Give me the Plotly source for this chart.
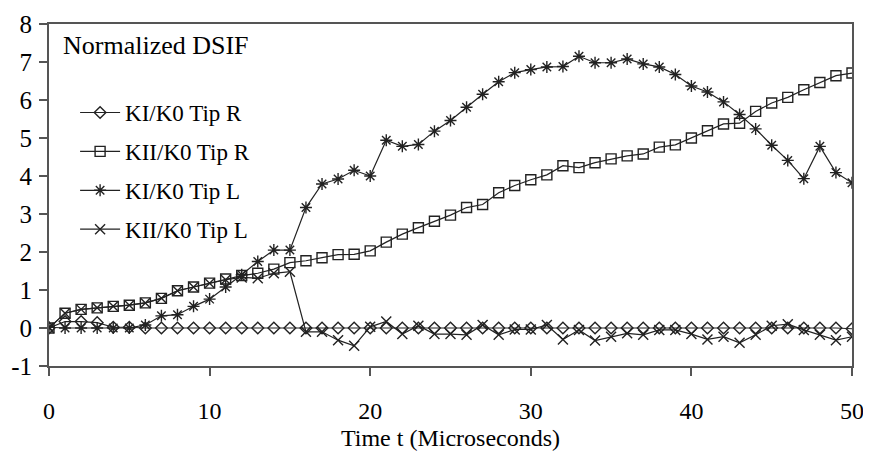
import plotly.graph_objects as go

t = list(range(0, 51))

ki_tip_r = [0.0, 0.17, 0.17, 0.14, 0.02, 0.02, 0.0, 0.0, 0.0, 0.0,
            0.0, 0.0, 0.0, 0.0, 0.0, 0.0, 0.0, 0.0, 0.0, 0.0,
            0.0, 0.0, 0.0, 0.0, 0.0, 0.0, 0.0, 0.0, 0.0, 0.0,
            0.0, 0.0, 0.0, 0.0, 0.0, 0.0, 0.0, 0.0, 0.0, 0.0,
            0.0, 0.0, 0.0, 0.0, 0.0, 0.0, 0.0, 0.0, 0.0, 0.0, -0.02]

kii_tip_r = [0.0, 0.39, 0.49, 0.53, 0.57, 0.6, 0.66, 0.78, 0.98, 1.08,
             1.18, 1.29, 1.38, 1.44, 1.55, 1.72, 1.77, 1.85, 1.93, 1.94,
             2.03, 2.26, 2.47, 2.64, 2.81, 2.97, 3.17, 3.25, 3.56, 3.75,
             3.9, 4.03, 4.27, 4.22, 4.35, 4.45, 4.53, 4.58, 4.76, 4.82,
             5.0, 5.19, 5.37, 5.39, 5.7, 5.92, 6.07, 6.27, 6.46, 6.64, 6.71]

ki_tip_l = [0.02, 0.0, 0.0, 0.0, 0.0, 0.0, 0.08, 0.32, 0.35, 0.57,
            0.76, 1.08, 1.4, 1.75, 2.05, 2.05, 3.17, 3.79, 3.92, 4.15,
            4.0, 4.94, 4.78, 4.83, 5.18, 5.46, 5.81, 6.15, 6.48, 6.72,
            6.8, 6.87, 6.88, 7.15, 6.98, 6.98, 7.08, 6.95, 6.87, 6.67,
            6.37, 6.21, 5.95, 5.62, 5.24, 4.81, 4.41, 3.93, 4.78, 4.09, 3.82]

kii_tip_l = [0.0, 0.39, 0.49, 0.53, 0.57, 0.6, 0.66, 0.78, 0.98, 1.08,
             1.18, 1.27, 1.33, 1.31, 1.44, 1.48, -0.1, -0.1, -0.32, -0.47,
             0.03, 0.17, -0.16, 0.06, -0.16, -0.16, -0.18, 0.08, -0.18, -0.04,
             -0.04, 0.08, -0.3, -0.05, -0.33, -0.23, -0.14, -0.18, -0.05, -0.05,
             -0.16, -0.3, -0.23, -0.39, -0.18, 0.06, 0.1, -0.05, -0.18, -0.32, -0.23]

x_ticks = [0, 10, 20, 30, 40, 50]
y_ticks = [-1, 0, 1, 2, 3, 4, 5, 6, 7, 8]

FONT = "Liberation Serif"
LINE = "#222222"

series = [
    ("KI/K0 Tip R", ki_tip_r, "diamond-open", 9),
    ("KII/K0 Tip R", kii_tip_r, "square-open", 10),
    ("KI/K0 Tip L", ki_tip_l, "asterisk-open", 10),
    ("KII/K0 Tip L", kii_tip_l, "x-thin-open", 10),
]

fig = go.Figure()
for i, (name, ys, sym, sz) in enumerate(series):
    fig.add_trace(go.Scatter(
        x=t, y=ys, name=name, mode="lines+markers",
        legendgroup=f"g{i}",
        line=dict(color=LINE, width=1.2),
        marker=dict(symbol=sym, size=sz, color=LINE,
                    line=dict(color=LINE, width=1.4)),
    ))

fig.add_annotation(
    text="Normalized DSIF", xref="paper", yref="paper",
    x=0.015, y=0.985, xanchor="left", yanchor="top", showarrow=False,
    font=dict(family=FONT, size=26, color="black"),
)

fig.update_layout(
    width=855, height=443,
    margin=dict(l=41, r=11, t=16, b=85, autoexpand=False),
    paper_bgcolor="white", plot_bgcolor="white",
    font=dict(family=FONT, size=23, color="black"),
    showlegend=True,
    legend=dict(
        x=0.0325, y=0.804, xanchor="left", yanchor="top",
        bgcolor="rgba(0,0,0,0)", borderwidth=0,
        font=dict(family=FONT, size=23, color="black"),
        tracegroupgap=6, itemwidth=40,
    ),
    xaxis=dict(
        range=[0, 50], tickvals=x_ticks, ticktext=[str(v) for v in x_ticks],
        automargin=False, ticklabeloverflow="allow",
        showgrid=False, zeroline=False,
        showline=True, linecolor="#555555", linewidth=2, mirror=True,
        ticks="outside", ticklen=8, tickwidth=1.5, tickcolor="#555555",
        tickfont=dict(family=FONT, size=24),
        ticklabelstandoff=14,
        title=dict(text="Time t (Microseconds)", font=dict(family=FONT, size=24), standoff=16),
    ),
    yaxis=dict(
        range=[-1, 8], tickvals=y_ticks, ticktext=[str(v) for v in y_ticks],
        automargin=False, ticklabeloverflow="allow",
        showgrid=False, zeroline=False,
        showline=True, linecolor="#555555", linewidth=2, mirror=True,
        ticks="outside", ticklen=8, tickwidth=1.5, tickcolor="#555555",
        tickfont=dict(family=FONT, size=25),
        ticklabelstandoff=2,
    ),
)

fig.write_html("out.html")
